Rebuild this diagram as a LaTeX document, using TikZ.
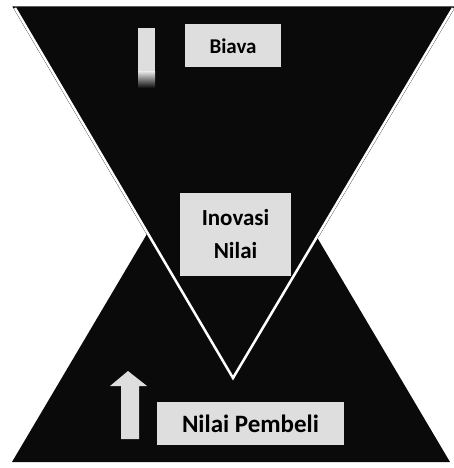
\documentclass[tikz,border=0pt]{standalone}
\usepackage{fontspec}
\setmainfont{Carlito}
\definecolor{boxgray}{RGB}{222,222,222}
\definecolor{trigray}{RGB}{10,10,10}
\tikzset{
  label box/.style={fill=boxgray, inner sep=0pt, align=center,
    font=\fontsize{23}{33}\selectfont\bfseries},
}
\begin{document}
\begin{tikzpicture}[x=1pt, y=-1pt]
  \useasboundingbox (0,0) rectangle (454,468);
  \fill[white] (0,0) rectangle (454,468);
  % upright triangle (Nilai Pembeli)
  \coordinate (L) at (12,462);
  \coordinate (R) at (450,462);
  \coordinate (T) at (231,92);
  % inverted triangle (Biava)
  \coordinate (A) at (15,8);
  \coordinate (B) at (453,8);
  \coordinate (V) at (233,378);
  \fill[trigray] (L) -- (R) -- (T) -- cycle;
  \filldraw[fill=trigray, draw=trigray, line width=3pt] (A) -- (B) -- (V) -- cycle;
  \draw[white, line width=2.5pt, line cap=butt] (A) -- (V) -- (B);
  % arrows
  \fill[boxgray] (138,28) rectangle (155,72);
  \shade[top color=boxgray, bottom color=trigray] (138,72) rectangle (155,88);
  \fill[boxgray] (121,439) -- (121,386) -- (110,386) -- (128,371)
    -- (147,386) -- (139,386) -- (139,439) -- cycle;
  % labels
  \node[label box, minimum width=96pt, minimum height=43pt,
    font=\fontsize{21}{33}\selectfont\bfseries] (biaya) at (233,46) {Biava};
  \node[label box, minimum width=111pt, minimum height=83pt] (inovasi) at (235.5,234.5) {Inovasi\\Nilai};
  \node[label box, minimum width=187pt, minimum height=43pt,
    font=\fontsize{25}{33}\selectfont\bfseries] (pembeli) at (250.5,423.5) {Nilai Pembeli};
\end{tikzpicture}
\end{document}
